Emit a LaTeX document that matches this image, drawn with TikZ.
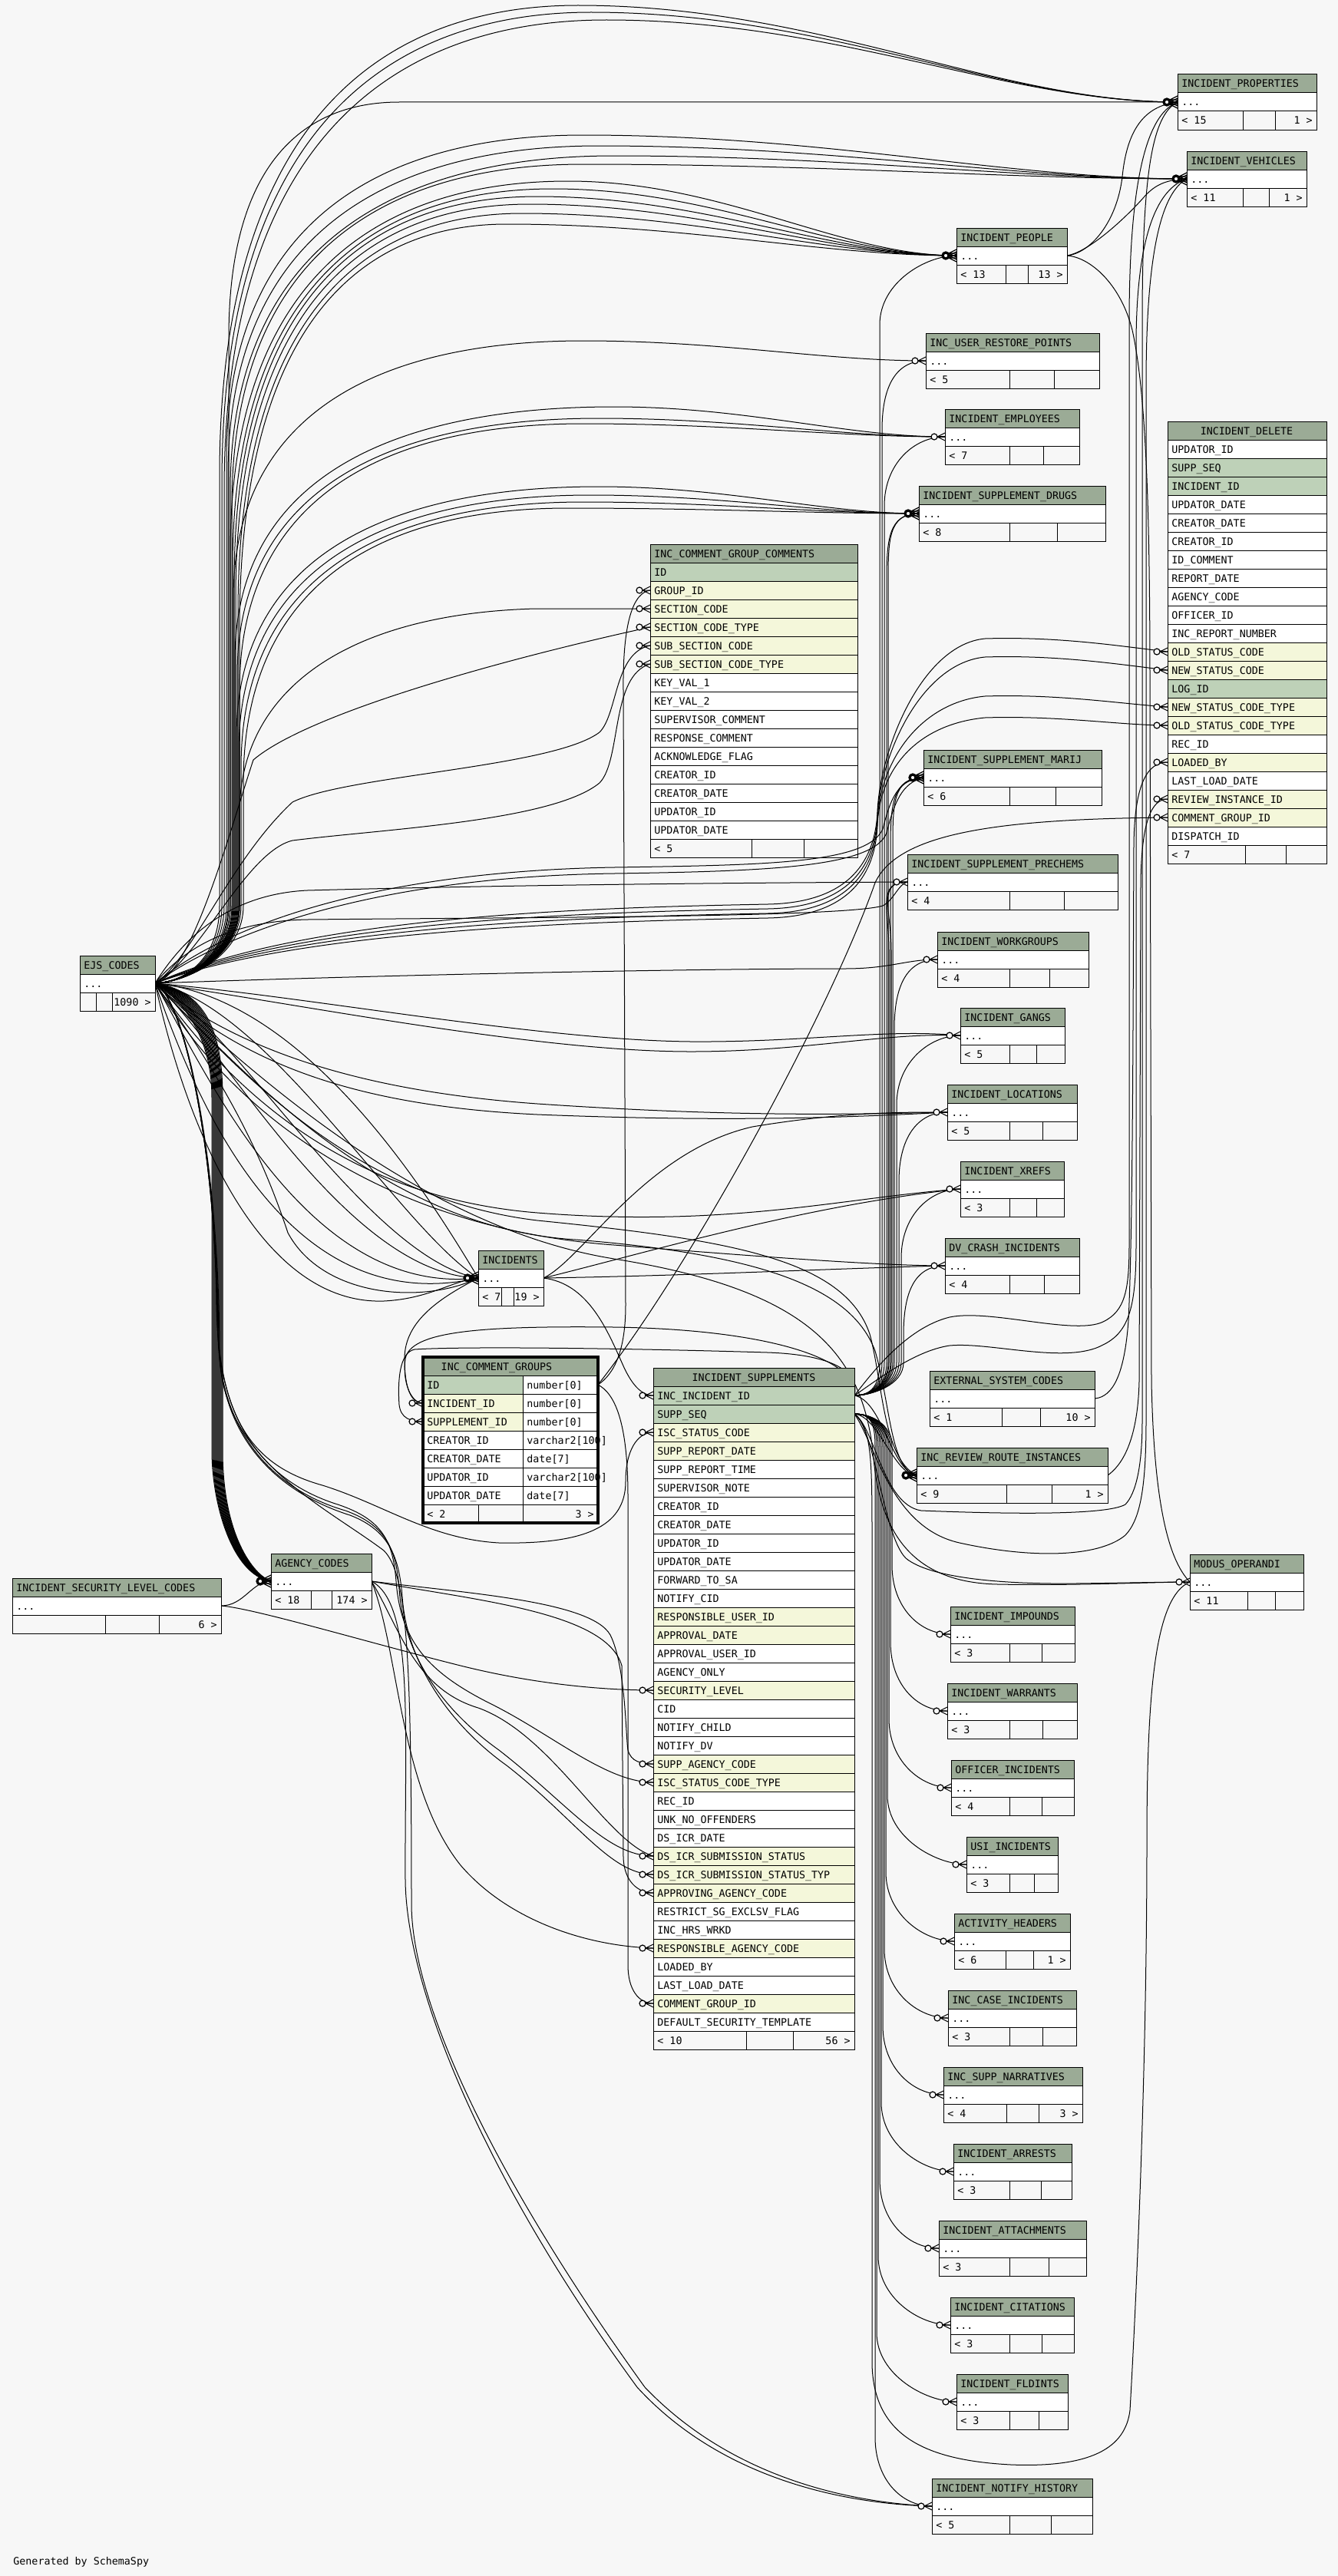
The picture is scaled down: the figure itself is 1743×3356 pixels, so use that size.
\documentclass[tikz,border=0pt]{standalone}
\usepackage{fontspec}
\newfontfamily\tblfont{DejaVu Sans Mono}
\usetikzlibrary{calc}
\definecolor{bgc}{HTML}{F7F7F7}
\definecolor{hdr}{HTML}{9BAB96}
\definecolor{pkc}{HTML}{BED1B8}
\definecolor{fkc}{HTML}{F4F7DA}
\pgfdeclarelayer{back}
\pgfdeclarelayer{edges}
\pgfsetlayers{back,edges,main}
\tikzset{
  rel/.style={draw=black,line width=0.5pt},
  cell/.style={draw=black,line width=0.5pt},
  txt/.style={anchor=base west,inner sep=0pt,font=\tblfont\fontsize{6.67}{8}\selectfont},
  rtxt/.style={anchor=base east,inner sep=0pt,font=\tblfont\fontsize{6.67}{8}\selectfont},
  ctxt/.style={anchor=base,inner sep=0pt,font=\tblfont\fontsize{6.67}{8}\selectfont},
  crow/.pic={\draw[line width=0.5pt] (-10,0) -- (0,-5) (-10,0) -- (0,5) (-10,0) -- (0,0);
    \draw[line width=0.6pt,fill=bgc] (-14,0) circle[radius=4];},
  crowblob/.pic={\foreach \dy in {-3,0,3}{\draw[line width=0.6pt] (-10,\dy) -- (0,\dy-5) (-10,\dy) -- (0,\dy+5) (-10,\dy) -- (0,\dy);}
    \draw[line width=1.6pt,fill=bgc] (-14,0) circle[radius=4];}
}
% compact table: id, x1, ytop, x2, title, col1, col2, left footer, right footer
\newcommand\ctab[9]{%
  \fill[hdr] (#2,#3) rectangle (#4,{#3+24});
  \fill[white] (#2,{#3+24}) rectangle (#4,{#3+48});
  \draw[cell] (#2,#3) rectangle (#4,{#3+72});
  \draw[cell] (#2,{#3+24}) -- (#4,{#3+24}) (#2,{#3+48}) -- (#4,{#3+48}) (#6,{#3+48}) -- (#6,{#3+72}) (#7,{#3+48}) -- (#7,{#3+72});
  \node[txt] (#1) at ({#2+5},{#3+17}) {#5};
  \node[txt] at ({#2+5},{#3+41}) {...};
  \node[txt] at ({#2+5},{#3+65}) {#8};
  \node[rtxt] at ({#4-5},{#3+65}) {#9};
  \coordinate (#1-in) at (#2,{#3+36});
  \coordinate (#1-out) at (#4,{#3+36});
}
% EJS upward connector: target, trunk x, bend start y, hump x, hump y, target x
\newcommand\ejsup[6]{\draw[rel] (ejs-out) .. controls (245,1279) and (#2,1245) .. (#2,1180) -- (#2,#3) .. controls (#2,{#3-0.75*(#3-#5)}) and ({#4-0.55*(#4-#2)},#5) .. (#4,#5) .. controls ({#4+0.4*(#6-#4)},#5) and ($(#1)+({-0.3*(#6-#4)},0)$) .. (#1);}
% supplement bundle connectors: target, target y, bundle x
\newcommand\supup[3]{\draw[rel] (s-a) .. controls (1135,1818) and (#3,1805) .. (#3,1775) -- (#3,{#2+90}) .. controls (#3,{#2+35}) and ($(#1)+(-40,0)$) .. (#1);}
\newcommand\supdn[3]{\draw[rel] (s-b) .. controls (1135,1842) and (#3,1855) .. (#3,1885) -- (#3,{#2-90}) .. controls (#3,{#2-35}) and ($(#1)+(-40,0)$) .. (#1);}

\begin{document}
\begin{tikzpicture}[x=0.5pt,y=-0.5pt]
\useasboundingbox (0,0) rectangle (1743,3356);
\begin{pgfonlayer}{back}
\fill[bgc] (0,0) rectangle (1743,3356);
\end{pgfonlayer}

% ---------------- compact tables ----------------
\ctab{ipr}{1534}{97}{1715}{INCIDENT\_PROPERTIES}{1619}{1661}{< 15}{1 >}
\ctab{ive}{1546}{197}{1702}{INCIDENT\_VEHICLES}{1619}{1653}{< 11}{1 >}
\ctab{ipe}{1246}{297}{1390}{INCIDENT\_PEOPLE}{1310}{1339}{< 13}{13 >}
\ctab{iur}{1206}{434}{1432}{INC\_USER\_RESTORE\_POINTS}{1315}{1373}{< 5}{}
\ctab{iem}{1231}{533}{1406}{INCIDENT\_EMPLOYEES}{1315}{1359}{< 7}{}
\ctab{isd}{1197}{633}{1440}{INCIDENT\_SUPPLEMENT\_DRUGS}{1315}{1377}{< 8}{}
\ctab{ism}{1203}{977}{1435}{INCIDENT\_SUPPLEMENT\_MARIJ}{1315}{1375}{< 6}{}
\ctab{isp}{1182}{1113}{1456}{INCIDENT\_SUPPLEMENT\_PRECHEMS}{1315}{1386}{< 4}{}
\ctab{iwg}{1221}{1214}{1418}{INCIDENT\_WORKGROUPS}{1315}{1367}{< 4}{}
\ctab{igg}{1251}{1313}{1387}{INCIDENT\_GANGS}{1315}{1350}{< 5}{}
\ctab{ilc}{1234}{1413}{1403}{INCIDENT\_LOCATIONS}{1315}{1358}{< 5}{}
\ctab{ixr}{1251}{1513}{1386}{INCIDENT\_XREFS}{1315}{1350}{< 3}{}
\ctab{idv}{1231}{1613}{1406}{DV\_CRASH\_INCIDENTS}{1315}{1360}{< 4}{}
\ctab{esc}{1211}{1786}{1426}{EXTERNAL\_SYSTEM\_CODES}{1305}{1355}{< 1}{10 >}
\ctab{irr}{1194}{1886}{1443}{INC\_REVIEW\_ROUTE\_INSTANCES}{1311}{1370}{< 9}{1 >}
\ctab{mo}{1550}{2025}{1698}{MODUS\_OPERANDI}{1625}{1661}{< 11}{}
\ctab{iim}{1238}{2093}{1400}{INCIDENT\_IMPOUNDS}{1315}{1357}{< 3}{}
\ctab{iwa}{1234}{2193}{1403}{INCIDENT\_WARRANTS}{1315}{1358}{< 3}{}
\ctab{ioi}{1239}{2293}{1399}{OFFICER\_INCIDENTS}{1315}{1357}{< 4}{}
\ctab{iusi}{1259}{2393}{1378}{USI\_INCIDENTS}{1315}{1347}{< 3}{}
\ctab{iah}{1243}{2493}{1394}{ACTIVITY\_HEADERS}{1310}{1346}{< 6}{1 >}
\ctab{ici}{1235}{2593}{1402}{INC\_CASE\_INCIDENTS}{1315}{1358}{< 3}{}
\ctab{isn}{1229}{2693}{1410}{INC\_SUPP\_NARRATIVES}{1311}{1353}{< 4}{3 >}
\ctab{iar}{1242}{2793}{1396}{INCIDENT\_ARRESTS}{1315}{1356}{< 3}{}
\ctab{iat}{1223}{2893}{1415}{INCIDENT\_ATTACHMENTS}{1315}{1366}{< 3}{}
\ctab{icit}{1238}{2993}{1399}{INCIDENT\_CITATIONS}{1315}{1357}{< 3}{}
\ctab{ifl}{1246}{3093}{1391}{INCIDENT\_FLDINTS}{1315}{1353}{< 3}{}
\ctab{inh}{1214}{3229}{1423}{INCIDENT\_NOTIFY\_HISTORY}{1315}{1369}{< 5}{}
\ctab{ejs}{104}{1245}{202}{EJS\_CODES}{125}{146}{}{1090 >}
\ctab{ag}{353}{2024}{484}{AGENCY\_CODES}{405}{432}{< 18}{174 >}
\ctab{isl}{16}{2056}{288}{INCIDENT\_SECURITY\_LEVEL\_CODES}{137}{207}{}{6 >}
\ctab{inc}{623}{1629}{708}{INCIDENTS}{653}{669}{< 7}{19 >}

% ---------------- INCIDENT_DELETE ----------------
\fill[hdr] (1521,549) rectangle (1728,573);
\draw[cell] (1521,549) rectangle (1728,573);
\node[ctxt] (idel) at (1624,566) {INCIDENT\_DELETE};
\foreach \rt/\rc [count=\i from 0] in {UPDATOR\_ID/white,SUPP\_SEQ/pkc,INCIDENT\_ID/pkc,UPDATOR\_DATE/white,CREATOR\_DATE/white,CREATOR\_ID/white,ID\_COMMENT/white,REPORT\_DATE/white,AGENCY\_CODE/white,OFFICER\_ID/white,INC\_REPORT\_NUMBER/white,OLD\_STATUS\_CODE/fkc,NEW\_STATUS\_CODE/fkc,LOG\_ID/pkc,NEW\_STATUS\_CODE\_TYPE/fkc,OLD\_STATUS\_CODE\_TYPE/fkc,REC\_ID/white,LOADED\_BY/fkc,LAST\_LOAD\_DATE/white,REVIEW\_INSTANCE\_ID/fkc,COMMENT\_GROUP\_ID/fkc,DISPATCH\_ID/white}{
  \filldraw[cell,fill=\rc] (1521,{573+24*\i}) rectangle (1728,{597+24*\i});
  \node[txt] at (1526,{590+24*\i}) {\rt};
  \coordinate (del-\i) at (1521,{585+24*\i});
}
\draw[cell] (1521,1101) rectangle (1728,1125) (1622,1101) -- (1622,1125) (1675,1101) -- (1675,1125);
\node[txt] at (1526,1118) {< 7};

% ---------------- INC_COMMENT_GROUP_COMMENTS ----------------
\fill[hdr] (847,709) rectangle (1117,733);
\draw[cell] (847,709) rectangle (1117,733);
\node[txt] (cgc) at (852,726) {INC\_COMMENT\_GROUP\_COMMENTS};
\foreach \rt/\rc [count=\i from 0] in {ID/pkc,GROUP\_ID/fkc,SECTION\_CODE/fkc,SECTION\_CODE\_TYPE/fkc,SUB\_SECTION\_CODE/fkc,SUB\_SECTION\_CODE\_TYPE/fkc,KEY\_VAL\_1/white,KEY\_VAL\_2/white,SUPERVISOR\_COMMENT/white,RESPONSE\_COMMENT/white,ACKNOWLEDGE\_FLAG/white,CREATOR\_ID/white,CREATOR\_DATE/white,UPDATOR\_ID/white,UPDATOR\_DATE/white}{
  \filldraw[cell,fill=\rc] (847,{733+24*\i}) rectangle (1117,{757+24*\i});
  \node[txt] at (852,{750+24*\i}) {\rt};
  \coordinate (cgc-\i) at (847,{745+24*\i});
}
\draw[cell] (847,1093) rectangle (1117,1117) (979,1093) -- (979,1117) (1047,1093) -- (1047,1117);
\node[txt] at (852,1110) {< 5};

% ---------------- INC_COMMENT_GROUPS ----------------
\fill[hdr] (551,1768) rectangle (779,1792);
\node[ctxt] (icg) at (647,1785) {INC\_COMMENT\_GROUPS};
\foreach \rt/\rc/\rty [count=\i from 0] in {ID/pkc/{number[0]},INCIDENT\_ID/fkc/{number[0]},SUPPLEMENT\_ID/fkc/{number[0]},CREATOR\_ID/white/{varchar2[100]},CREATOR\_DATE/white/{date[7]},UPDATOR\_ID/white/{varchar2[100]},UPDATOR\_DATE/white/{date[7]}}{
  \filldraw[cell,fill=\rc] (551,{1792+24*\i}) rectangle (681,{1816+24*\i});
  \filldraw[cell,fill=white] (681,{1792+24*\i}) rectangle (779,{1816+24*\i});
  \node[txt] at (556,{1809+24*\i}) {\rt};
  \node[txt] at (686,{1809+24*\i}) {\rty};
  \coordinate (icg-\i) at (551,{1804+24*\i});
}
\draw[cell] (551,1960) rectangle (779,1984) (623,1960) -- (623,1984) (681,1960) -- (681,1984);
\node[txt] at (556,1977) {< 2};
\node[rtxt] at (774,1977) {3 >};
\draw[line width=2pt] (551,1768) rectangle (779,1984);
\coordinate (icg-idr) at (779,1804);

% ---------------- INCIDENT_SUPPLEMENTS ----------------
\fill[hdr] (851,1782) rectangle (1113,1806);
\draw[cell] (851,1782) rectangle (1113,1806);
\node[ctxt] (isup) at (982,1799) {INCIDENT\_SUPPLEMENTS};
\foreach \rt/\rc [count=\i from 0] in {INC\_INCIDENT\_ID/pkc,SUPP\_SEQ/pkc,ISC\_STATUS\_CODE/fkc,SUPP\_REPORT\_DATE/fkc,SUPP\_REPORT\_TIME/white,SUPERVISOR\_NOTE/white,CREATOR\_ID/white,CREATOR\_DATE/white,UPDATOR\_ID/white,UPDATOR\_DATE/white,FORWARD\_TO\_SA/white,NOTIFY\_CID/white,RESPONSIBLE\_USER\_ID/fkc,APPROVAL\_DATE/fkc,APPROVAL\_USER\_ID/white,AGENCY\_ONLY/white,SECURITY\_LEVEL/fkc,CID/white,NOTIFY\_CHILD/white,NOTIFY\_DV/white,SUPP\_AGENCY\_CODE/fkc,ISC\_STATUS\_CODE\_TYPE/fkc,REC\_ID/white,UNK\_NO\_OFFENDERS/white,DS\_ICR\_DATE/white,DS\_ICR\_SUBMISSION\_STATUS/fkc,DS\_ICR\_SUBMISSION\_STATUS\_TYP/fkc,APPROVING\_AGENCY\_CODE/fkc,RESTRICT\_SG\_EXCLSV\_FLAG/white,INC\_HRS\_WRKD/white,RESPONSIBLE\_AGENCY\_CODE/fkc,LOADED\_BY/white,LAST\_LOAD\_DATE/white,COMMENT\_GROUP\_ID/fkc,DEFAULT\_SECURITY\_TEMPLATE/white}{
  \filldraw[cell,fill=\rc] (851,{1806+24*\i}) rectangle (1113,{1830+24*\i});
  \node[txt] at (856,{1823+24*\i}) {\rt};
  \coordinate (sup-\i) at (851,{1818+24*\i});
}
\draw[cell] (851,2646) rectangle (1113,2670) (972,2646) -- (972,2670) (1033,2646) -- (1033,2670);
\node[txt] at (856,2663) {< 10};
\node[rtxt] at (1108,2663) {56 >};
\coordinate (s-a) at (1113,1818);
\coordinate (s-b) at (1113,1842);

\node[txt] (gen) at (17,3341) {Generated by SchemaSpy};

% ---------------- connectors ----------------
\begin{pgfonlayer}{edges}
% EJS_CODES upward
\ejsup{ipr-in}{286}{620}{753}{7}{1534}
\ejsup{ipr-in}{289}{630}{770}{16}{1534}
\ejsup{ipr-in}{292}{640}{790}{26}{1534}
\ejsup{ipr-in}{298}{440}{520}{133}{1534}
\ejsup{ive-in}{295}{600}{760}{176}{1546}
\ejsup{ive-in}{297}{620}{780}{190}{1546}
\ejsup{ive-in}{300}{640}{800}{203}{1546}
\ejsup{ive-in}{302}{660}{760}{214}{1546}
\ejsup{ipe-in}{300}{720}{740}{236}{1246}
\ejsup{ipe-in}{303}{740}{720}{246}{1246}
\ejsup{ipe-in}{305}{760}{700}{256}{1246}
\ejsup{ipe-in}{307}{780}{690}{266}{1246}
\ejsup{ipe-in}{310}{800}{680}{278}{1246}
\ejsup{ipe-in}{312}{820}{660}{292}{1246}
\ejsup{iur-in}{304}{780}{760}{444}{1206}
\ejsup{iem-in}{306}{860}{800}{530}{1231}
\ejsup{iem-in}{309}{880}{780}{545}{1231}
\ejsup{iem-in}{312}{900}{760}{552}{1231}
\ejsup{isd-in}{308}{960}{780}{634}{1197}
\ejsup{isd-in}{311}{980}{770}{645}{1197}
\ejsup{isd-in}{314}{1000}{760}{654}{1197}
\ejsup{isd-in}{317}{1020}{740}{662}{1197}
% EJS -> INC_COMMENT_GROUP_COMMENTS
\draw[rel] (ejs-out) .. controls (245,1279) and (312,1245) .. (312,1180) -- (312,1060) .. controls (312,900) and (450,800) .. (697,793) -- (cgc-2);
\draw[rel] (ejs-out) .. controls (250,1270) and (300,1080) .. (330,990) .. controls (400,930) and (650,860) .. (cgc-3);
\draw[rel] (ejs-out) .. controls (250,1250) and (300,1120) .. (381,1045) .. controls (450,1010) and (720,1000) .. (781,954) .. controls (805,930) and (800,850) .. (cgc-4);
\draw[rel] (ejs-out) .. controls (260,1250) and (320,1110) .. (381,1095) .. controls (500,1080) and (720,1070) .. (781,1020) .. controls (810,990) and (795,880) .. (cgc-5);
% EJS -> INCIDENT_DELETE status codes
\foreach \yy/\hy/\tg in {1178/832/11,1184/856/12,1190/907/14,1196/935/15}{
  \draw[rel] (ejs-out) .. controls (400,\yy+12) and (800,\yy+4) .. (1000,\yy) .. controls (1110,\yy-2) and (1140,\yy-60) .. (1143,\yy-120) .. controls (1146,\yy-200) and (1200,\hy+8) .. (1283,\hy) .. controls (1380,\hy-3) and (1460,\hy+10) .. (del-\tg);
}
% EJS -> right-side tables
\draw[rel] (ejs-out) .. controls (300,1200) and (500,1135) .. (800,1130) .. controls (1000,1127) and (1130,1125) .. (1150,1080) .. controls (1160,1040) and (1170,1015) .. (ism-in);
\draw[rel] (ejs-out) .. controls (300,1210) and (500,1142) .. (800,1138) .. controls (1000,1135) and (1138,1130) .. (1155,1085) .. controls (1165,1045) and (1175,1020) .. (ism-in);
\draw[rel] (ejs-out) .. controls (240,1220) and (300,1165) .. (400,1160) .. controls (700,1152) and (1000,1150) .. (isp-in);
\draw[rel] (ejs-out) .. controls (240,1235) and (300,1200) .. (400,1198) .. controls (700,1195) and (1100,1195) .. (1150,1180) .. controls (1165,1172) and (1170,1152) .. (isp-in);
\draw[rel] (ejs-out) .. controls (500,1270) and (900,1262) .. (1100,1262) .. controls (1160,1262) and (1180,1250) .. (iwg-in);
\draw[rel] (ejs-out) .. controls (400,1310) and (700,1370) .. (900,1370) .. controls (1050,1370) and (1150,1345) .. (igg-in);
\draw[rel] (ejs-out) .. controls (400,1298) and (700,1355) .. (900,1357) .. controls (1050,1358) and (1150,1340) .. (igg-in);
\draw[rel] (ejs-out) .. controls (300,1360) and (450,1420) .. (700,1438) .. controls (950,1455) and (1100,1452) .. (ilc-in);
\draw[rel] (ejs-out) .. controls (310,1380) and (450,1440) .. (700,1452) .. controls (950,1462) and (1100,1456) .. (ilc-in);
\draw[rel] (ejs-out) .. controls (300,1420) and (450,1560) .. (700,1580) .. controls (950,1600) and (1100,1560) .. (ixr-in);
\draw[rel] (ejs-out) .. controls (300,1450) and (500,1600) .. (800,1622) .. controls (1000,1638) and (1150,1649) .. (idv-in);
\draw[rel] (ejs-out) .. controls (300,1380) and (450,1560) .. (700,1590) .. controls (950,1615) and (1100,1640) .. (1133,1738) .. controls (1150,1800) and (1150,1900) .. (irr-in);
\draw[rel] (ejs-out) .. controls (320,1400) and (500,1600) .. (750,1615) .. controls (1000,1635) and (1110,1680) .. (1140,1760) .. controls (1160,1830) and (1160,1915) .. (irr-in);
\draw[rel] (ejs-out) .. controls (330,1400) and (550,1600) .. (800,1640) .. controls (1050,1680) and (1125,1760) .. (1138,1900) .. controls (1148,2010) and (1200,2062) .. (1300,2064) .. controls (1400,2066) and (1500,2061) .. (mo-in);
% EJS -> INCIDENTS
\draw[rel] (ejs-out) .. controls (300,1330) and (480,1640) .. (inc-in);
\draw[rel] (ejs-out) .. controls (290,1360) and (450,1660) .. (inc-in);
\draw[rel] (ejs-out) .. controls (270,1400) and (400,1690) .. (inc-in);
\draw[rel] (ejs-out) .. controls (260,1450) and (380,1720) .. (inc-in);
\draw[rel] (ejs-out) .. controls (250,1500) and (350,1700) .. (500,1695) .. controls (560,1692) and (590,1668) .. (inc-in);
\draw[rel] (ejs-out) .. controls (350,1310) and (520,1600) .. (inc-in);
\draw[rel] (ejs-out) .. controls (400,1300) and (560,1560) .. (inc-in);
\draw[rel] (ejs-out) .. controls (270,1380) and (330,1470) .. (375,1606) .. controls (420,1690) and (550,1700) .. (inc-in);
% EJS -> AGENCY_CODES (trunk)
\foreach \tx [count=\k] in {276,277,...,290}{
  \draw[rel] (ejs-out) .. controls ({214+3*\k},1290) and (\tx,1330) .. (\tx,1430) -- (\tx,1890) .. controls (\tx,{1955+3*\k}) and ({300+2*\k},2052) .. (ag-in);
}
% EJS -> INCIDENT_SUPPLEMENTS code columns
\draw[rel] (ejs-out) .. controls (240,1300) and (280,1500) .. (282,1700) .. controls (285,1850) and (330,1910) .. (420,1935) .. controls (500,1960) and (560,2005) .. (650,2010) .. controls (760,2012) and (815,1990) .. (815,1930) .. controls (815,1890) and (830,1866) .. (sup-2);
\draw[rel] (ejs-out) .. controls (240,1300) and (281,1500) .. (283,1720) .. controls (286,1870) and (360,1935) .. (440,1960) .. controls (500,1980) and (512,2010) .. (516,2060) .. controls (522,2140) and (560,2180) .. (640,2220) .. controls (720,2260) and (790,2322) .. (sup-21);
\draw[rel] (ejs-out) .. controls (240,1300) and (282,1500) .. (284,1740) .. controls (287,1880) and (370,1945) .. (450,1968) .. controls (505,1988) and (516,2020) .. (520,2070) .. controls (526,2160) and (580,2230) .. (650,2280) .. controls (740,2350) and (790,2418) .. (sup-25);
\draw[rel] (ejs-out) .. controls (240,1300) and (283,1500) .. (285,1750) .. controls (288,1890) and (380,1950) .. (456,1974) .. controls (508,1994) and (520,2030) .. (524,2080) .. controls (530,2170) and (590,2250) .. (660,2300) .. controls (750,2370) and (795,2442) .. (sup-26);
\draw[rel] (ejs-out) .. controls (240,1300) and (285,1500) .. (286,1760) .. controls (287,1900) and (420,1960) .. (500,2020) .. controls (530,2050) and (536,2150) .. (536,2480) .. controls (536,2620) and (660,2860) .. (840,3110) .. controls (950,3225) and (1100,3260) .. (inh-in);
% security level, agency codes
\draw[rel] (isl-out) .. controls (318,2092) and (328,2060) .. (ag-in);
\draw[rel] (isl-out) .. controls (330,2095) and (480,2140) .. (600,2170) .. controls (700,2195) and (790,2202) .. (sup-16);
\draw[rel] (ag-out) .. controls (600,2075) and (770,2085) .. (795,2130) .. controls (815,2170) and (815,2260) .. (818,2280) .. controls (822,2295) and (835,2298) .. (sup-20);
\draw[rel] (ag-out) .. controls (620,2085) and (790,2100) .. (810,2170) -- (812,2420) .. controls (813,2450) and (830,2466) .. (sup-27);
\draw[rel] (ag-out) .. controls (520,2150) and (520,2330) .. (600,2430) .. controls (660,2500) and (760,2535) .. (sup-30);
\draw[rel] (ag-out) .. controls (520,2120) and (540,2200) .. (623,2225) .. controls (720,2260) and (790,2400) .. (sup-25);
\draw[rel] (ag-out) .. controls (540,2090) and (527,2250) .. (528,2450) .. controls (530,2600) and (640,2850) .. (830,3110) .. controls (940,3230) and (1100,3262) .. (inh-in);
% INCIDENTS
\draw[rel] (inc-out) .. controls (900,1662) and (1100,1652) .. (idv-in);
\draw[rel] (inc-out) .. controls (850,1630) and (1050,1570) .. (ixr-in);
\draw[rel] (inc-out) .. controls (760,1640) and (840,1500) .. (980,1468) .. controls (1100,1448) and (1180,1449) .. (ilc-in);
\draw[rel] (inc-out) .. controls (765,1672) and (790,1730) .. (810,1775) .. controls (822,1803) and (835,1818) .. (sup-0);
\draw[rel] (inc-in) .. controls (575,1690) and (527,1720) .. (527,1770) .. controls (527,1810) and (536,1828) .. (icg-1);
% INC_COMMENT_GROUPS
\draw[rel] (icg-idr) .. controls (800,1790) and (815,1760) .. (815,1700) -- (812,900) .. controls (811,810) and (825,772) .. (cgc-1);
\draw[rel] (icg-idr) .. controls (900,1650) and (1080,1320) .. (1140,1150) .. controls (1170,1085) and (1300,1067) .. (del-20);
\draw[rel] (icg-idr) .. controls (800,1815) and (818,1850) .. (818,1950) -- (818,2560) .. controls (818,2592) and (832,2610) .. (sup-33);
\draw[rel] (s-a) .. controls (1120,1790) and (1090,1765) .. (1000,1762) .. controls (800,1756) and (600,1754) .. (540,1758) .. controls (520,1762) and (518,1800) .. (520,1830) .. controls (522,1848) and (535,1852) .. (icg-2);
\draw[rel] (s-a) .. controls (1118,1770) and (1000,1732) .. (800,1729) .. controls (620,1727) and (535,1735) .. (528,1770) .. controls (524,1800) and (535,1828) .. (icg-1);
% INCIDENT_SUPPLEMENTS bundle
\supup{ipe-in}{333}{1146}
\supup{iur-in}{470}{1149}
\supup{iem-in}{569}{1152}
\supup{isd-in}{669}{1155}
\supup{isd-in}{669}{1157}
\supup{ism-in}{1013}{1160}
\supup{ism-in}{1013}{1163}
\supup{isp-in}{1149}{1158}
\supup{isp-in}{1149}{1161}
\supup{iwg-in}{1250}{1165}
\supup{igg-in}{1349}{1168}
\supup{ilc-in}{1449}{1171}
\supup{ixr-in}{1549}{1174}
\supup{idv-in}{1649}{1177}
\draw[rel] (s-a) .. controls (1150,1825) and (1160,1915) .. (irr-in);
\draw[rel] (s-b) .. controls (1145,1845) and (1165,1922) .. (irr-in);
\supdn{iim-in}{2129}{1162}
\supdn{iwa-in}{2229}{1160}
\supdn{ioi-in}{2329}{1158}
\supdn{iusi-in}{2429}{1156}
\supdn{iah-in}{2529}{1154}
\supdn{ici-in}{2629}{1152}
\supdn{isn-in}{2729}{1150}
\supdn{iar-in}{2829}{1148}
\supdn{iat-in}{2929}{1146}
\supdn{icit-in}{3029}{1144}
\supdn{ifl-in}{3129}{1142}
\supdn{inh-in}{3265}{1140}
\draw[rel] (s-b) .. controls (1135,1860) and (1136,1900) .. (1136,2000) -- (1136,3080) .. controls (1138,3170) and (1200,3205) .. (1317,3211) .. controls (1420,3215) and (1466,3190) .. (1472,3140) .. controls (1480,3000) and (1494,2700) .. (1494,2400) .. controls (1494,2200) and (1505,2080) .. (mo-in);
\draw[rel] (s-b) .. controls (1140,1860) and (1150,2000) .. (1180,2030) .. controls (1210,2055) and (1300,2064) .. (1400,2063) .. controls (1480,2062) and (1520,2061) .. (mo-in);
% supplements -> properties / vehicles via right column
\draw[rel] (s-a) .. controls (1135,1790) and (1180,1730) .. (1237,1716) .. controls (1290,1705) and (1400,1740) .. (1437,1722) .. controls (1466,1708) and (1471,1680) .. (1471,1620) -- (1471,420) .. controls (1471,250) and (1490,150) .. (ipr-in);
\draw[rel] (s-a) .. controls (1140,1800) and (1190,1760) .. (1237,1753) .. controls (1290,1748) and (1390,1778) .. (1437,1752) .. controls (1472,1735) and (1480,1700) .. (1480,1620) -- (1480,450) .. controls (1480,300) and (1510,245) .. (ive-in);
\draw[rel] (s-b) .. controls (1140,1860) and (1150,1960) .. (1200,1968) .. controls (1300,1972) and (1440,1975) .. (1466,1960) .. controls (1480,1945) and (1488,1910) .. (1488,1850) -- (1488,420) .. controls (1488,230) and (1500,150) .. (ipr-in);
\draw[rel] (s-b) .. controls (1140,1880) and (1160,1990) .. (1250,2010) .. controls (1340,2030) and (1430,2030) .. (1466,2000) .. controls (1485,1980) and (1493,1940) .. (1493,1850) -- (1493,500) .. controls (1493,320) and (1515,250) .. (ive-in);
% INCIDENT_PEOPLE
\draw[rel] (ipe-out) .. controls (1420,330) and (1455,290) .. (1462,230) .. controls (1468,170) and (1490,138) .. (ipr-in);
\draw[rel] (ipe-out) .. controls (1420,328) and (1470,280) .. (1490,257) .. controls (1505,240) and (1520,234) .. (ive-in);
\draw[rel] (ipe-out) .. controls (1420,335) and (1460,370) .. (1475,430) .. controls (1495,520) and (1498,700) .. (1498,900) -- (1500,1800) .. controls (1503,1950) and (1520,2030) .. (mo-in);
% EXTERNAL_SYSTEM_CODES, INC_REVIEW_ROUTE_INSTANCES -> INCIDENT_DELETE
\draw[rel] (esc-out) .. controls (1450,1820) and (1465,1790) .. (1470,1720) .. controls (1476,1600) and (1476,1300) .. (1477,1100) .. controls (1478,1020) and (1495,993) .. (del-17);
\draw[rel] (irr-out) .. controls (1460,1910) and (1482,1880) .. (1484,1800) -- (1486,1150) .. controls (1487,1070) and (1500,1041) .. (del-19);
\end{pgfonlayer}

% ---------------- markers ----------------
\foreach \m in {iur-in,iem-in,isp-in,iwg-in,igg-in,ilc-in,ixr-in,idv-in,mo-in,iim-in,iwa-in,ioi-in,iusi-in,iah-in,ici-in,isn-in,iar-in,iat-in,icit-in,ifl-in,inh-in,cgc-1,cgc-2,cgc-3,cgc-4,cgc-5,sup-0,sup-2,sup-16,sup-20,sup-21,sup-25,sup-26,sup-27,sup-30,sup-33,del-11,del-12,del-14,del-15,del-17,del-19,del-20,icg-1,icg-2}{\path (\m) pic {crow};}
\foreach \m in {ipr-in,ive-in,ipe-in,isd-in,ism-in,irr-in,ag-in,inc-in}{\path (\m) pic {crowblob};}
\end{tikzpicture}
\end{document}
